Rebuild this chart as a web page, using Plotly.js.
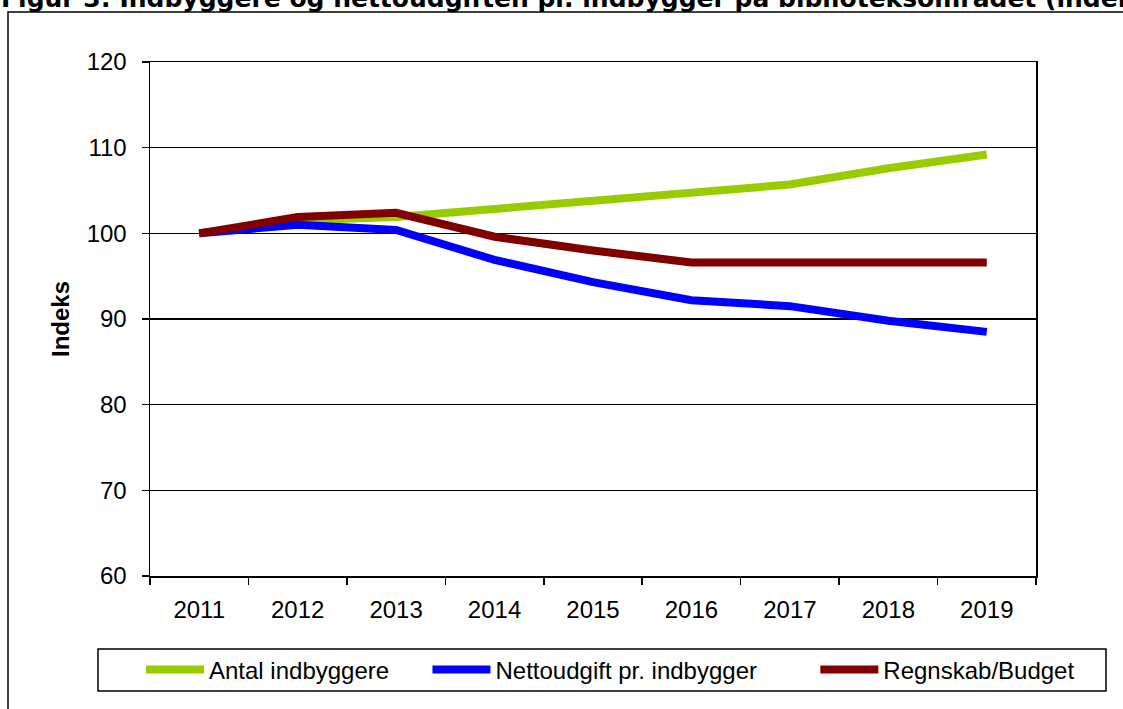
<!DOCTYPE html>
<html>
<head>
<meta charset="utf-8">
<script src="https://cdn.plot.ly/plotly-3.0.1.min.js"></script>
<style>
  html, body { margin: 0; padding: 0; background: #fff; }
  #chart { width: 1123px; height: 709px; }
</style>
</head>
<body>
<div id="chart"></div>
<script>
var years = ['2011', '2012', '2013', '2014', '2015', '2016', '2017', '2018', '2019'];
var antal = [100, 101.5, 101.9, 102.9, 103.8, 104.8, 105.7, 107.6, 109.2];
var netto = [100, 101.0, 100.4, 96.9, 94.3, 92.2, 91.5, 89.8, 88.5];
var regnskab = [100, 101.9, 102.4, 99.6, 98.0, 96.6, 96.6, 96.6, 96.6];

var seriesNames = ['Antal indbyggere', 'Nettoudgift pr. indbygger', 'Regnskab/Budget'];
var seriesColors = ['#99CC00', '#0000FF', '#800000'];
var seriesValues = [antal, netto, regnskab];
// extra space after each legend label, as in the original legend
var legendPad = ['&nbsp;&nbsp;&nbsp;&nbsp;&nbsp;', '&nbsp;&nbsp;&nbsp;&nbsp;&nbsp;&nbsp;&nbsp;&nbsp;', ''];

var data = seriesValues.map(function (vals, i) {
  return {
    x: years,
    y: vals,
    type: 'scatter',
    mode: 'lines',
    name: seriesNames[i] + legendPad[i],
    line: { color: seriesColors[i], width: 8 }
  };
});

// plot area: x 150..1036, y 62..576 (px)
var L = 150, T = 62, PW = 886, PH = 514;
function px(v) { return (v - L) / PW; }
function py(v) { return (T + PH - v) / PH; }

var layout = {
  width: 1123,
  height: 709,
  margin: { l: L, r: 1123 - L - PW, t: T, b: 709 - T - PH },
  paper_bgcolor: '#fff',
  plot_bgcolor: '#fff',
  font: { family: 'Liberation Sans, Arial, sans-serif', size: 24, color: '#000' },
  showlegend: true,
  legend: {
    orientation: 'h',
    x: px(141),
    xanchor: 'left',
    y: py(670),
    yanchor: 'middle',
    bgcolor: 'rgba(0,0,0,0)',
    borderwidth: 0,
    font: { size: 24 },
    itemwidth: 58
  },
  xaxis: {
    type: 'category',
    range: [-0.5, 8.5],
    showline: true,
    linecolor: '#000',
    linewidth: 1.5,
    mirror: true,
    ticks: 'outside',
    tickson: 'boundaries',
    ticklen: 7,
    tickcolor: '#000',
    tickwidth: 1.5,
    showgrid: false,
    ticklabelstandoff: 12
  },
  yaxis: {
    range: [60, 120],
    dtick: 10,
    showline: true,
    linecolor: '#000',
    linewidth: 1.5,
    mirror: true,
    ticks: 'outside',
    ticklen: 7,
    tickcolor: '#000',
    tickwidth: 1.5,
    gridcolor: '#000',
    gridwidth: 1.5,
    zeroline: false,
    ticklabelstandoff: 10,
    title: { text: '<b>Indeks</b>', font: { size: 24 }, standoff: 10 }
  },
  shapes: [
    { type: 'rect', xref: 'paper', yref: 'paper', x0: px(8), x1: px(1150), y0: py(730), y1: py(12),
      line: { color: '#000', width: 1.5 }, fillcolor: 'rgba(0,0,0,0)' },
    { type: 'rect', xref: 'paper', yref: 'paper', x0: px(98), x1: px(1106), y0: py(691), y1: py(649),
      line: { color: '#000', width: 1.5 }, fillcolor: 'rgba(0,0,0,0)' }
  ],
  annotations: [
    { xref: 'paper', yref: 'paper', x: px(0), y: py(-1), xanchor: 'left', yanchor: 'middle',
      showarrow: false, borderpad: 0,
      text: '<b>Figur 3: Indbyggere og nettoudgiften pr. indbygger på biblioteksområdet (indeks 2011=100)</b>',
      font: { family: 'DejaVu Sans, Verdana, sans-serif', size: 25, color: '#000' } }
  ]
};

Plotly.newPlot('chart', data, layout, { displayModeBar: false, staticPlot: true });
</script>
</body>
</html>
